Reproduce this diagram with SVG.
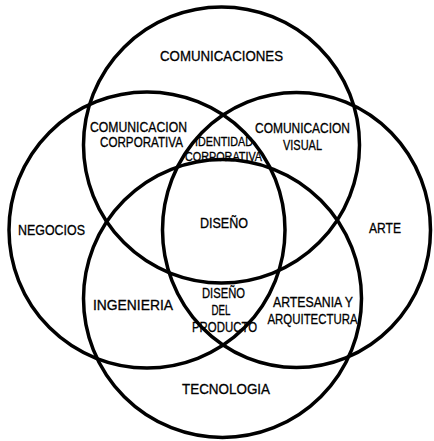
<svg xmlns="http://www.w3.org/2000/svg" width="434" height="441" viewBox="0 0 434 441">
  <style>
    .ring { fill: none; stroke: #000; stroke-width: 3.5; }
    .lbl { font-family: "Liberation Sans", Arial, sans-serif; font-size: 14px; fill: #000; stroke: #000; stroke-width: 0.3; text-anchor: middle; }
    .sm { font-size: 12.5px; }
  </style>
  <rect width="434" height="441" fill="#fff"/>

  <!-- four overlapping disciplines -->
  <g id="comunicaciones">
    <circle class="ring" cx="221.5" cy="145" r="138"/>
    <text class="lbl" x="221.5" y="61" textLength="123" lengthAdjust="spacingAndGlyphs">COMUNICACIONES</text>
  </g>
  <g id="negocios">
    <circle class="ring" cx="147" cy="230" r="138"/>
    <text class="lbl" x="51.5" y="235" textLength="67" lengthAdjust="spacingAndGlyphs">NEGOCIOS</text>
  </g>
  <g id="arte">
    <ellipse class="ring" cx="296.5" cy="230" rx="134" ry="137.5"/>
    <text class="lbl" x="385" y="233" textLength="32" lengthAdjust="spacingAndGlyphs">ARTE</text>
  </g>
  <g id="tecnologia">
    <circle class="ring" cx="222.5" cy="298.5" r="139"/>
    <text class="lbl" x="226" y="394" textLength="88" lengthAdjust="spacingAndGlyphs">TECNOLOGIA</text>
  </g>

  <!-- overlap regions -->
  <g id="comunicacion-corporativa">
    <text class="lbl" x="138.5" y="132" textLength="97" lengthAdjust="spacingAndGlyphs">COMUNICACION</text>
    <text class="lbl" x="141.5" y="147" textLength="83" lengthAdjust="spacingAndGlyphs">CORPORATIVA</text>
  </g>
  <g id="comunicacion-visual">
    <text class="lbl" x="302.5" y="133" textLength="95" lengthAdjust="spacingAndGlyphs">COMUNICACION</text>
    <text class="lbl" x="302.5" y="150" textLength="39" lengthAdjust="spacingAndGlyphs">VISUAL</text>
  </g>
  <g id="identidad-corporativa">
    <text class="lbl sm" x="224" y="146" textLength="58" lengthAdjust="spacingAndGlyphs">IDENTIDAD</text>
    <text class="lbl sm" x="223.5" y="161" textLength="77" lengthAdjust="spacingAndGlyphs">CORPORATIVA</text>
  </g>
  <g id="diseno">
    <text class="lbl" x="224" y="228" textLength="48" lengthAdjust="spacingAndGlyphs">DISEÑO</text>
  </g>
  <g id="ingenieria">
    <text class="lbl" x="133" y="310" textLength="80" lengthAdjust="spacingAndGlyphs">INGENIERIA</text>
  </g>
  <g id="diseno-del-producto">
    <text class="lbl" x="223.5" y="298" textLength="43" lengthAdjust="spacingAndGlyphs">DISEÑO</text>
    <text class="lbl" x="221" y="315" textLength="19" lengthAdjust="spacingAndGlyphs">DEL</text>
    <text class="lbl" x="224.5" y="332" textLength="65" lengthAdjust="spacingAndGlyphs">PRODUCTO</text>
  </g>
  <g id="artesania-arquitectura">
    <text class="lbl" x="313" y="307" textLength="80" lengthAdjust="spacingAndGlyphs">ARTESANIA Y</text>
    <text class="lbl" x="312.5" y="324" textLength="90" lengthAdjust="spacingAndGlyphs">ARQUITECTURA</text>
  </g>

  <!-- a Venn layout has no connectors -->
  <g id="connectors"/>
</svg>
